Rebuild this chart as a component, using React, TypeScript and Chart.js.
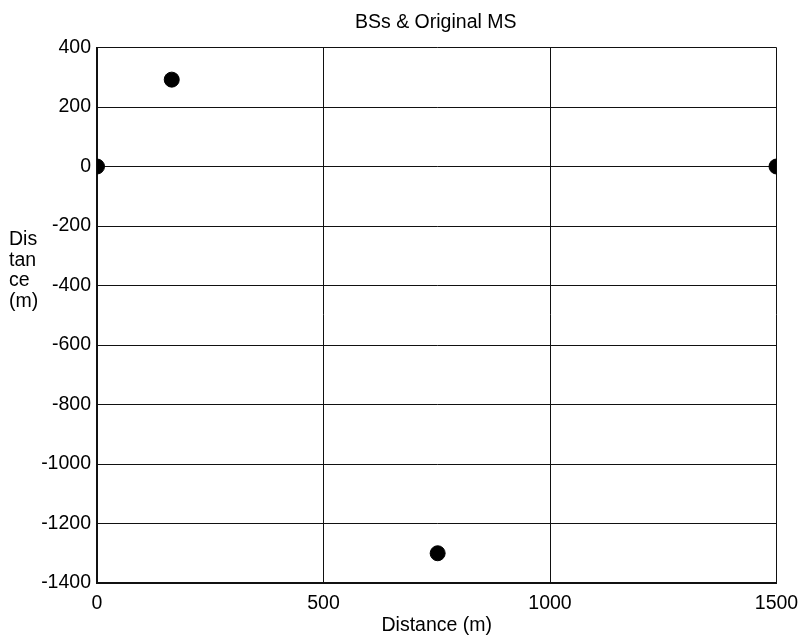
import React, { useEffect, useRef } from "react";
import { Chart, registerables } from "chart.js";

Chart.register(...registerables);

const chartTitle = "BSs & Original MS";
const xTitle = "Distance (m)";
const yTitleLines = ["Dis", "tan", "ce", "(m)"];
const xValues = [0, 165, 752, 1500];
const yValues = [0, 292, -1300, 0];
const xTicks = [0, 500, 1000, 1500];
const yTicks = [400, 200, 0, -200, -400, -600, -800, -1000, -1200, -1400];

const FONT = "'Liberation Sans', Arial, Helvetica, sans-serif";
const FS = 19.5;

const textPlugin = {
  id: "customTexts",
  afterDraw(chart: any) {
    const ctx = chart.ctx;
    const area = chart.chartArea;
    ctx.save();
    ctx.fillStyle = "#000";
    ctx.font = `${FS}px ${FONT}`;
    ctx.textAlign = "center";
    ctx.textBaseline = "middle";
    ctx.fillText(chartTitle, (area.left + area.right) / 2 - 1, 22.5);
    ctx.textAlign = "left";
    yTitleLines.forEach((t, i) => {
      ctx.fillText(t, 9, 240 + i * 20.5);
    });
    ctx.restore();
  },
};

export default function App() {
  const ref = useRef<HTMLCanvasElement | null>(null);
  useEffect(() => {
    if (!ref.current) return;
    const chart = new Chart(ref.current, {
      type: "scatter",
      data: {
        datasets: [
          {
            data: xValues.map((x, i) => ({ x, y: yValues[i] })),
            backgroundColor: "#000",
            borderColor: "#000",
            pointRadius: 7.5,
            pointHoverRadius: 7.5,
          },
        ],
      },
      options: {
        animation: false,
        responsive: false,
        maintainAspectRatio: false,
        layout: { padding: { left: 0, right: 22.5, top: 47.5, bottom: 0 } },
        plugins: {
          legend: { display: false },
          tooltip: { enabled: false },
          title: { display: false },
        },
        scales: {
          x: {
            type: "linear",
            min: 0,
            max: 1500,
            afterBuildTicks: (scale: any) => {
              scale.ticks = xTicks.map((v) => ({ value: v }));
            },
            afterFit: (scale: any) => {
              scale.height = 54;
              scale.paddingLeft = 0;
              scale.paddingRight = 0;
            },
            grid: { color: "#111", lineWidth: 1, drawTicks: false },
            border: { color: "#111", width: 2 },
            ticks: {
              color: "#000",
              padding: 9,
              maxRotation: 0,
              font: { family: FONT, size: FS },
              callback: (v: any) => String(v),
            },
            title: {
              display: true,
              text: xTitle,
              color: "#000",
              font: { family: FONT, size: FS },
              padding: { top: 0, bottom: 0 },
            },
          },
          y: {
            type: "linear",
            min: -1400,
            max: 400,
            afterBuildTicks: (scale: any) => {
              scale.ticks = yTicks.map((v) => ({ value: v }));
            },
            afterFit: (scale: any) => {
              scale.width = 97;
              scale.paddingTop = 0;
              scale.paddingBottom = 0;
            },
            grid: { color: "#111", lineWidth: 1, drawTicks: false },
            border: { color: "#111", width: 2 },
            ticks: {
              color: "#000",
              padding: 6,
              font: { family: FONT, size: FS },
              callback: (v: any) => String(v),
            },
          },
        },
      },
      plugins: [textPlugin],
    } as any);
    return () => chart.destroy();
  }, []);
  return (
    <div style={{ position: "fixed", left: 0, top: 0, width: 799, height: 637, background: "#fff" }}>
      <canvas ref={ref} width={799} height={637} style={{ width: 799, height: 637, display: "block" }} />
    </div>
  );
}
